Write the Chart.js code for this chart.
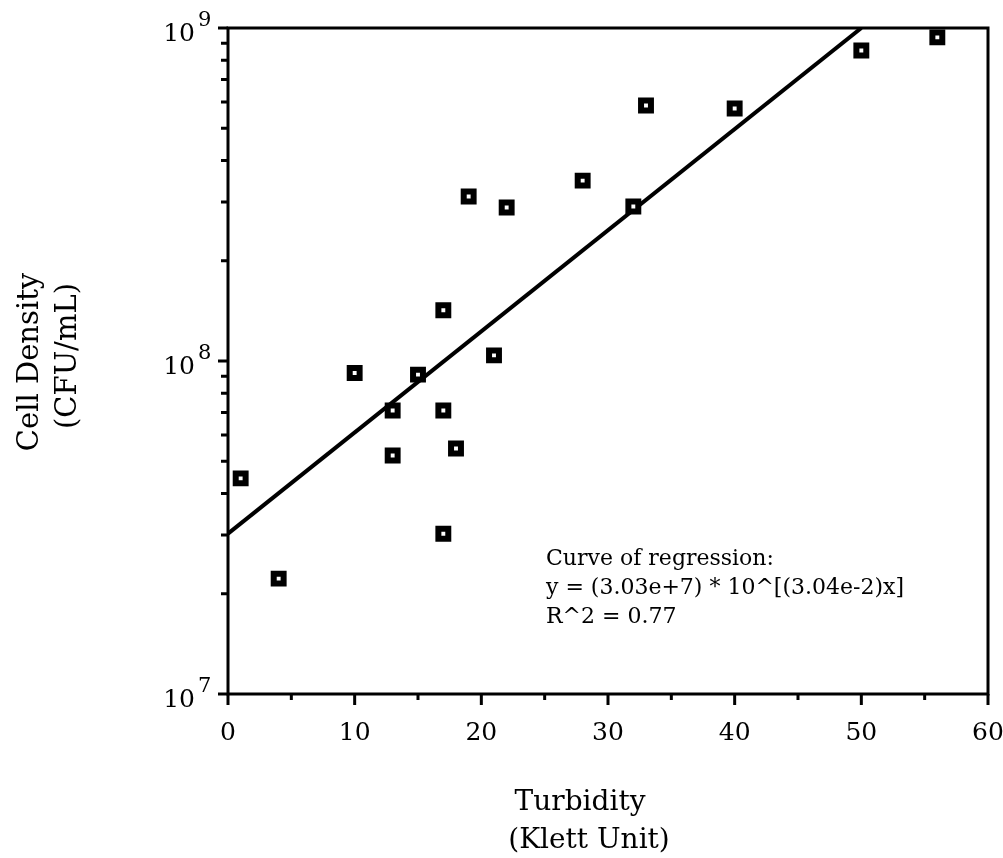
<!DOCTYPE html>
<html>
<head>
<meta charset="utf-8">
<script src="https://cdn.jsdelivr.net/npm/chart.js@4.4.1/dist/chart.umd.min.js"></script>
<style>
    html, body { margin: 0; padding: 0; background: #fff; }
    #wrap { width: 1003px; height: 858px; position: relative; }
</style>
</head>
<body>
<div id="wrap"><canvas id="chart"></canvas></div>
<script>
const turbidity = [1, 4, 10, 13, 13, 15, 17, 17, 17, 18, 19, 21, 22, 28, 32, 33, 40, 50, 56];
const cellDensity = [
    4.44e7, 2.22e7, 9.2e7, 7.1e7, 5.2e7, 9.1e7, 1.42e8, 7.1e7, 3.03e7, 5.46e7,
    3.12e8, 1.04e8, 2.89e8, 3.48e8, 2.91e8, 5.85e8, 5.73e8, 8.56e8, 9.37e8,
];

// regression line end points
const fitX = [0, 50];
const fitY = [3.03e7, 1.0e9];

const xMajorTicks = [0, 10, 20, 30, 40, 50, 60];
const xMinorTicks = [5, 15, 25, 35, 45, 55];
const yMajorTicks = [1e7, 1e8, 1e9];
const yMajorExp = ['7', '8', '9'];
const yMinorTicks = [2e7, 3e7, 4e7, 5e7, 6e7, 7e7, 8e7, 9e7, 2e8, 3e8, 4e8, 5e8, 6e8, 7e8, 8e8, 9e8];

const xTitle = ['Turbidity', '(Klett Unit)'];
const yTitle = ['Cell Density', '(CFU/mL)'];
const note = ['Curve of regression:', 'y = (3.03e+7) * 10^[(3.04e-2)x]', 'R^2 = 0.77'];

const serif = "'DejaVu Serif', serif";
const ink = '#000';

const frame = {
    id: 'frame',
    afterDatasetsDraw(chart) {
        const { ctx, chartArea: a, scales } = chart;
        const sx = scales.x;
        const sy = scales.y;
        ctx.save();
        ctx.strokeStyle = ink;
        ctx.fillStyle = ink;
        ctx.lineWidth = 3;
        ctx.strokeRect(a.left, a.top, a.right - a.left, a.bottom - a.top);

        // tick marks
        ctx.beginPath();
        xMajorTicks.forEach((v) => {
            const px = sx.getPixelForValue(v);
            ctx.moveTo(px, a.bottom);
            ctx.lineTo(px, a.bottom + 11);
        });
        xMinorTicks.forEach((v) => {
            const px = sx.getPixelForValue(v);
            ctx.moveTo(px, a.bottom);
            ctx.lineTo(px, a.bottom + 6);
        });
        yMajorTicks.forEach((v) => {
            const py = sy.getPixelForValue(v);
            ctx.moveTo(a.left, py);
            ctx.lineTo(a.left - 10, py);
        });
        yMinorTicks.forEach((v) => {
            const py = sy.getPixelForValue(v);
            ctx.moveTo(a.left, py);
            ctx.lineTo(a.left - 7, py);
        });
        ctx.stroke();

        // x tick labels
        ctx.font = `25px ${serif}`;
        ctx.textAlign = 'center';
        ctx.textBaseline = 'alphabetic';
        xMajorTicks.forEach((v) => {
            ctx.fillText(String(v), sx.getPixelForValue(v), a.bottom + 46);
        });

        // y tick labels: 10 with raised exponent
        yMajorTicks.forEach((v, i) => {
            const py = sy.getPixelForValue(v);
            ctx.font = `25px ${serif}`;
            ctx.textAlign = 'right';
            ctx.fillText('10', a.left - 33, py + 13);
            ctx.font = `21px ${serif}`;
            ctx.textAlign = 'left';
            ctx.fillText(yMajorExp[i], a.left - 30, py - 2);
        });

        // axis titles
        ctx.font = `28px ${serif}`;
        ctx.textAlign = 'center';
        const cx = (a.left + a.right) / 2 - 28;
        ctx.fillText(xTitle[0], cx, a.bottom + 116);
        ctx.fillText(xTitle[1], cx + 9, a.bottom + 154);

        const cy = (a.top + a.bottom) / 2;
        ctx.font = `29px ${serif}`;
        ctx.save();
        ctx.translate(38, cy + 1);
        ctx.rotate(-Math.PI / 2);
        ctx.fillText(yTitle[0], 0, 0);
        ctx.restore();
        ctx.save();
        ctx.translate(76, cy - 5);
        ctx.rotate(-Math.PI / 2);
        ctx.fillText(yTitle[1], 0, 0);
        ctx.restore();

        // regression note
        ctx.font = `22px ${serif}`;
        ctx.textAlign = 'left';
        note.forEach((t, i) => {
            ctx.fillText(t, 546, 565 + i * 29);
        });
        ctx.restore();
    },
};

new Chart(document.getElementById('chart'), {
    data: {
        datasets: [
            {
                type: 'line',
                data: fitX.map((x, i) => ({ x, y: fitY[i] })),
                borderColor: ink,
                borderWidth: 4,
                pointRadius: 0,
                fill: false,
                order: 2,
            },
            {
                type: 'scatter',
                data: turbidity.map((x, i) => ({ x, y: cellDensity[i] })),
                pointStyle: 'rect',
                pointRadius: 7,
                pointBorderWidth: 6,
                pointBackgroundColor: '#fff',
                pointBorderColor: ink,
                order: 1,
            },
        ],
    },
    options: {
        responsive: true,
        maintainAspectRatio: false,
        animation: false,
        layout: { padding: { left: 228, right: 15, top: 28, bottom: 164 } },
        plugins: { legend: { display: false }, tooltip: { enabled: false } },
        scales: {
            x: { type: 'linear', min: 0, max: 60, display: false },
            y: { type: 'logarithmic', min: 1e7, max: 1e9, display: false },
        },
    },
    plugins: [frame],
});
</script>
</body>
</html>
